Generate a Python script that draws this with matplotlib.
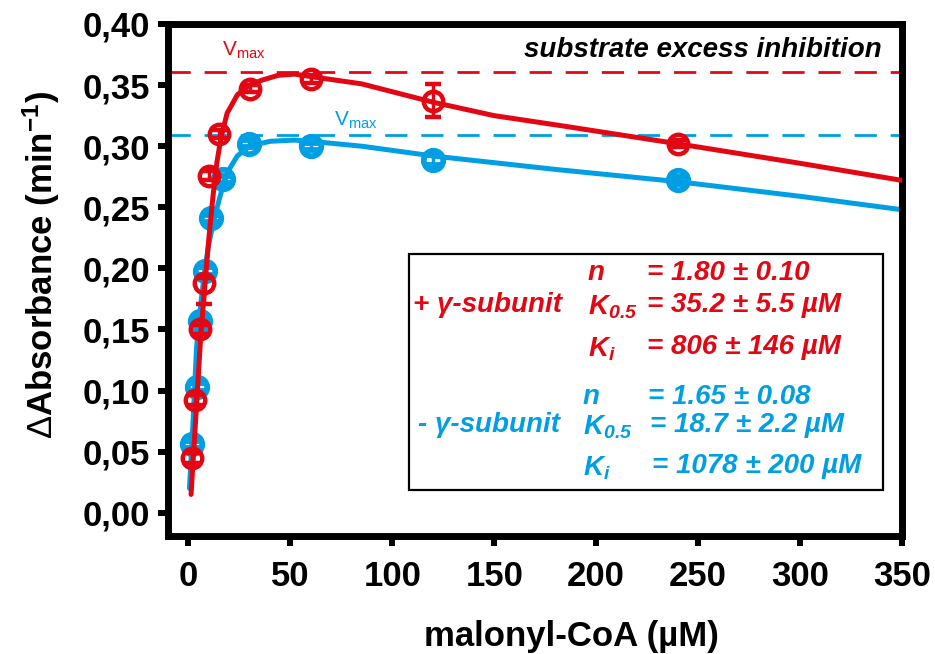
import matplotlib
matplotlib.use("Agg")
import matplotlib.pyplot as plt
import numpy as np

plt.rcParams['font.family'] = ['Liberation Sans', 'DejaVu Sans']
plt.rcParams['mathtext.fontset'] = 'custom'
plt.rcParams['mathtext.rm'] = 'Liberation Sans'
plt.rcParams['mathtext.it'] = 'Liberation Sans:italic'
plt.rcParams['mathtext.bf'] = 'Liberation Sans:bold'
plt.rcParams['mathtext.bfit'] = 'Liberation Sans:bold:italic'

RED = '#E30613'
BLUE = '#009FE3'

# measured data (+ gamma subunit)
red_x = [2.0, 3.4, 5.9, 7.6, 10.2, 14.8, 30.0, 60.0, 120.0, 240.0]
red_y = [0.045, 0.092, 0.150, 0.188, 0.276, 0.310, 0.347, 0.355, 0.337, 0.302]
red_err_lo = [0.004, 0.004, 0.004, 0.017, 0.004, 0.003, 0.003, 0.003, 0.0135, 0.003]
red_err_hi = [0.004, 0.004, 0.004, 0.004, 0.004, 0.003, 0.003, 0.003, 0.0135, 0.003]

# measured data (- gamma subunit)
blue_x = [1.8, 4.2, 5.9, 8.3, 11.0, 17.2, 29.5, 60.0, 120.0, 240.0]
blue_y = [0.056, 0.103, 0.157, 0.198, 0.241, 0.273, 0.302, 0.300, 0.289, 0.272]
blue_err = [0.003, 0.003, 0.003, 0.003, 0.003, 0.003, 0.003, 0.003, 0.004, 0.003]

# fitted curves
red_fit_x = [1.3, 3, 4.5, 6, 8, 10, 12, 14, 16, 19, 24, 30, 36, 44, 52, 60, 85, 120, 150, 182, 240, 300, 350]
red_fit_y = [0.015, 0.061, 0.102, 0.143, 0.185, 0.224, 0.258, 0.287, 0.307, 0.327, 0.342, 0.350, 0.354,
             0.358, 0.359, 0.357, 0.351, 0.336, 0.325, 0.317, 0.302, 0.286, 0.272]
blue_fit_x = [0.5, 2, 4, 6, 8, 10, 13, 17, 20, 24, 30, 40, 52, 60, 85, 120, 180, 240, 300, 350]
blue_fit_y = [0.020, 0.065, 0.135, 0.170, 0.198, 0.220, 0.243, 0.268, 0.281, 0.292, 0.300, 0.304, 0.305,
              0.304, 0.300, 0.292, 0.281, 0.271, 0.259, 0.248]

red_vmax = 0.361
blue_vmax = 0.309

x_ticks = [0, 50, 100, 150, 200, 250, 300, 350]
y_ticks = [0.00, 0.05, 0.10, 0.15, 0.20, 0.25, 0.30, 0.35, 0.40]
y_tick_labels = ['0,00', '0,05', '0,10', '0,15', '0,20', '0,25', '0,30', '0,35', '0,40']

W, H = 935, 654
fig = plt.figure(figsize=(W / 100, H / 100), dpi=100)
ax = fig.add_axes([168 / W, 1 - 536 / H, (902 - 168) / W, (536 - 24) / H])

ax.axhline(red_vmax, color=RED, lw=2.0, dashes=(8, 5), zorder=1)
ax.axhline(blue_vmax, color=BLUE, lw=2.0, dashes=(8, 5), zorder=1)

ax.plot(blue_fit_x, blue_fit_y, color=BLUE, lw=3.6, zorder=2, solid_capstyle='round')
ax.errorbar(blue_x, blue_y, yerr=blue_err, fmt='o', ms=14, mfc='none', mec=BLUE, mew=4.2,
            ecolor=BLUE, elinewidth=2.5, capsize=6, capthick=2.5, zorder=3)
ax.plot(red_fit_x, red_fit_y, color=RED, lw=3.6, zorder=4, solid_capstyle='round')
ax.errorbar(red_x, red_y, yerr=[red_err_lo, red_err_hi], fmt='o', ms=14, mfc='none', mec=RED, mew=3.2,
            ecolor=RED, elinewidth=2.5, capsize=6, capthick=2.5, zorder=5)

ax.set_xlim(-10, 350)
ax.set_ylim(-0.019, 0.40)
ax.set_xticks(x_ticks)
ax.set_xticklabels([str(v) for v in x_ticks])
ax.set_yticks(y_ticks)
ax.set_yticklabels(y_tick_labels)
for s in ax.spines.values():
    s.set_linewidth(5)
    s.set_capstyle('projecting')
ax.tick_params(direction='out', length=7, width=4.3, labelsize=25)
ax.tick_params(axis='x', pad=10)
ax.tick_params(axis='y', pad=6)
for lab in ax.get_xticklabels() + ax.get_yticklabels():
    lab.set_fontweight('bold')

ax.set_xlabel('malonyl-CoA (µM)', fontsize=25, fontweight='bold')
ax.set_ylabel(r'$\Delta$Absorbance (min$^{\mathbf{-1}}$)', fontsize=25, fontweight='bold')
ax.yaxis.set_label_coords(-0.145, 0.53)
ax.xaxis.set_label_coords(0.55, -0.165)

def ft(x, y, s, **kw):
    fig.text(x / W, 1 - y / H, s, **kw)

ft(222, 50, r'V$_{\mathrm{max}}$', color=RED, fontsize=15, va='center')
ft(334, 120, r'V$_{\mathrm{max}}$', color=BLUE, fontsize=15, va='center')
ft(882, 50, 'substrate excess inhibition', fontsize=20, fontweight='bold', style='italic',
   ha='right', va='center')

# parameter box
box = plt.Rectangle((409 / W, 1 - 490 / H), (883 - 409) / W, (490 - 254) / H, transform=fig.transFigure,
                    fill=False, lw=1.6, ec='black', zorder=10)
fig.add_artist(box)

kw = dict(fontsize=20, fontweight='bold', style='italic', va='center')
ft(413, 305, '+ γ-subunit', color=RED, **kw)
ft(588, 273, 'n', color=RED, **kw)
ft(647, 273, '= 1.80 ± 0.10', color=RED, **kw)
ft(588, 307, r'$\mathbfit{K}_{\mathbfit{0.5}}$', color=RED, **kw)
ft(647, 305, '= 35.2 ± 5.5 µM', color=RED, **kw)
ft(588, 349, r'$\mathbfit{K}_{\mathbfit{i}}$', color=RED, **kw)
ft(647, 347, '= 806 ± 146 µM', color=RED, **kw)

ft(418, 425, '- γ-subunit', color=BLUE, **kw)
ft(583, 397, 'n', color=BLUE, **kw)
ft(648, 397, '= 1.65 ± 0.08', color=BLUE, **kw)
ft(583, 427, r'$\mathbfit{K}_{\mathbfit{0.5}}$', color=BLUE, **kw)
ft(650, 425, '= 18.7 ± 2.2 µM', color=BLUE, **kw)
ft(583, 468, r'$\mathbfit{K}_{\mathbfit{i}}$', color=BLUE, **kw)
ft(652, 466, '= 1078 ± 200 µM', color=BLUE, **kw)

fig.savefig('out.png', dpi=100)
